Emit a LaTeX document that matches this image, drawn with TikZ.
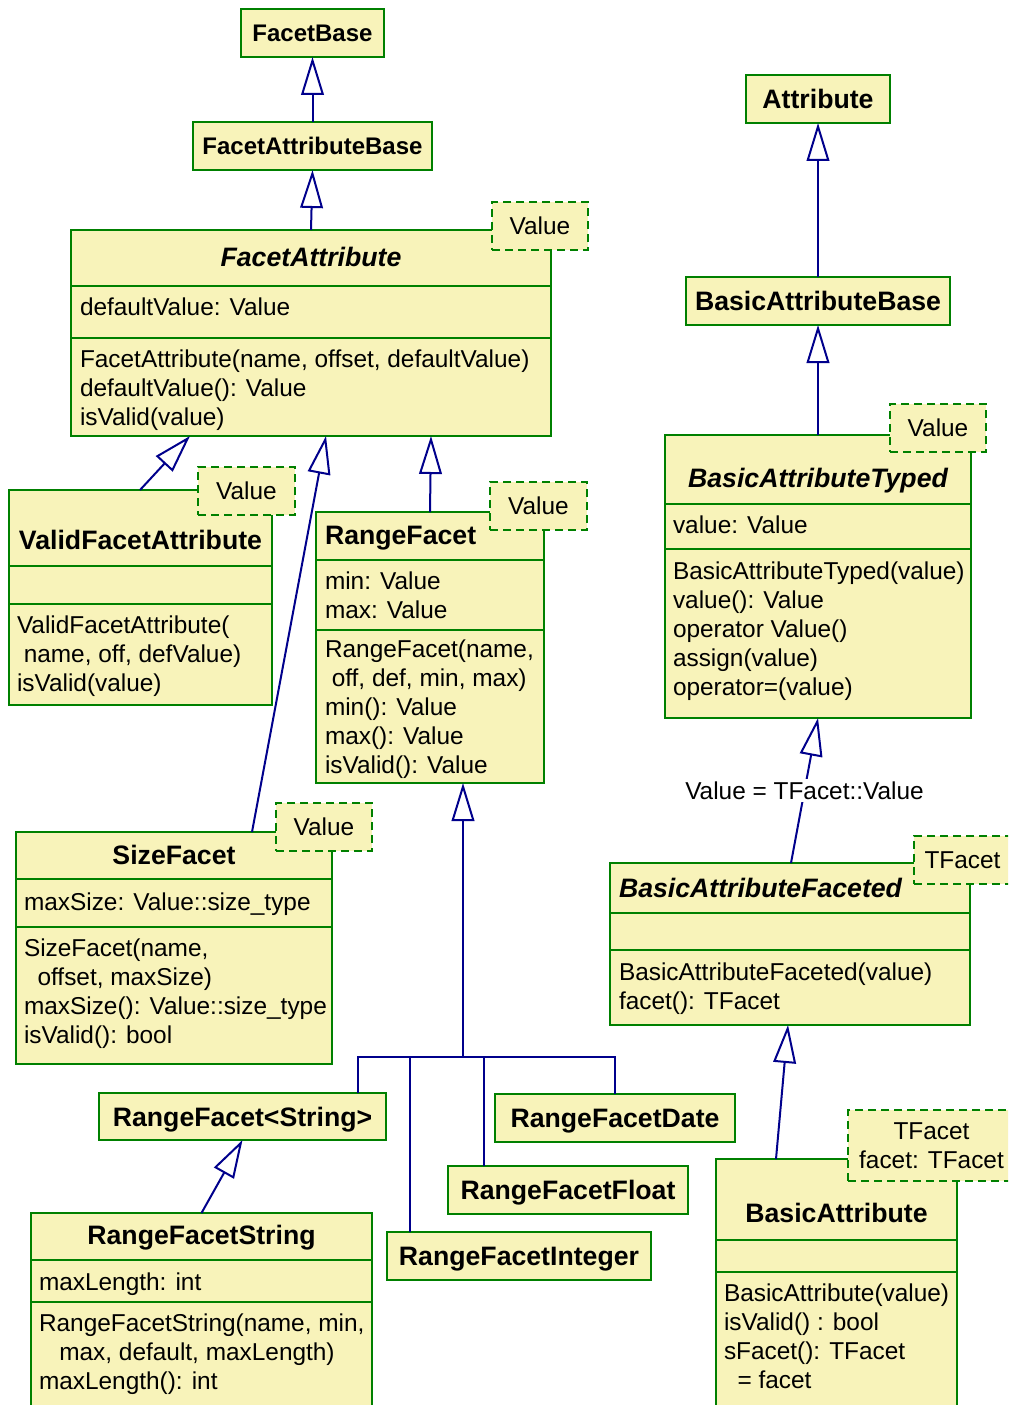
\documentclass[tikz,border=0pt]{standalone}
\usepackage{fontspec}
\setmainfont{Liberation Sans}
\usetikzlibrary{arrows.meta,calc}

\definecolor{clsfill}{RGB}{248,243,186}
\definecolor{clsedge}{RGB}{0,128,0}
\definecolor{reledge}{RGB}{0,0,140}

% horizontal compartment divider, #2 px below the top of class #1
\newcommand\hdiv[2]{\draw[divline] ($(#1.north west)+(0,#2)$) -- ($(#1.north east)+(0,#2)$);}

\begin{document}
\begin{tikzpicture}[
  x=0.75pt, y=-0.75pt,
  every node/.style={inner sep=0pt, outer sep=0pt},
  box/.style 2 args={minimum width=#1*0.75pt, minimum height=#2*0.75pt},
  cls/.style={draw=clsedge, fill=clsfill, line width=1.5pt, anchor=north west},
  simple/.style={cls, font=\fontsize{20}{24}\selectfont\bfseries, text height=14.3pt, text depth=0pt},
  smallsimple/.style={simple, font=\fontsize{18}{21.75}\selectfont\bfseries, text height=12.9pt},
  tmpl/.style={cls, dash pattern=on 6pt off 3.75pt, font=\fontsize{18.3}{21.75}\selectfont, align=center},
  tmplone/.style={tmpl, text height=13.1pt, text depth=0pt},
  title/.style={font=\fontsize{20}{24}\selectfont\bfseries, anchor=base},
  titlew/.style={title, anchor=base west},
  mem/.style={font=\fontsize{18.3}{21.75}\selectfont, anchor=base west},
  divline/.style={draw=clsedge, line width=1.5pt},
  inh/.style={draw=reledge, line width=1.5pt, -{Triangle[length=28.5pt, width=17pt, fill=white]}},
  rel/.style={draw=reledge, line width=1.5pt},
  lbl/.style={font=\fontsize{18.3}{21.75}\selectfont, fill=white, inner sep=2pt}
]
\useasboundingbox (0,0) rectangle (1008,1405);
\fill[white] (0,0) rectangle (1008,1405);
\clip (0,0) rectangle (1008,1405);

% ---------- facet hierarchy ----------
\node[smallsimple, box={143}{48}] (fb) at (241,9) {FacetBase};
\node[smallsimple, box={239}{48}] (fab) at (193,122) {FacetAttributeBase};

\node[cls, box={480}{206}] (fa) at (71,230) {};
\hdiv{fa}{56}\hdiv{fa}{108}
\node[title] (fa-t) at (311,267) {\itshape FacetAttribute};
\node[mem] (fa-a1) at (80,315.6) {defaultValue: Value};
\node[mem] (fa-m1) at (80,367.6) {FacetAttribute(name, offset, defaultValue)};
\node[mem] (fa-m2) at (80,396.6) {defaultValue(): Value};
\node[mem] (fa-m3) at (80,425.6) {isValid(value)};
\node[tmplone, box={96}{48}] (fa-p) at (492,202) {Value};

\node[cls, box={263}{215}] (vfa) at (9,490) {};
\hdiv{vfa}{76}\hdiv{vfa}{114}
\node[title] (vfa-t) at (140.5,549.6) {ValidFacetAttribute};
\node[mem] (vfa-m1) at (17,633.6) {ValidFacetAttribute(};
\node[mem] (vfa-m2) at (17,662.6) {\ name, off, defValue)};
\node[mem] (vfa-m3) at (17,691.6) {isValid(value)};
\node[tmplone, box={97}{48}] (vfa-p) at (198,467) {Value};

\node[cls, box={228}{271}] (rf) at (316,512) {};
\hdiv{rf}{48}\hdiv{rf}{118}
\node[titlew] (rf-t) at (325,544.6) {RangeFacet};
\node[mem] (rf-a1) at (325,589.6) {min: Value};
\node[mem] (rf-a2) at (325,618.6) {max: Value};
\node[mem] (rf-m1) at (325,657.6) {RangeFacet(name,};
\node[mem] (rf-m2) at (325,686.6) {\ off, def, min, max)};
\node[mem] (rf-m3) at (325,715.6) {min(): Value};
\node[mem] (rf-m4) at (325,744.6) {max(): Value};
\node[mem] (rf-m5) at (325,773.6) {isValid(): Value};
\node[tmplone, box={97}{48}] (rf-p) at (490,482) {Value};

\node[cls, box={316}{232}] (sf) at (16,832) {};
\hdiv{sf}{47}\hdiv{sf}{95}
\node[title] (sf-t) at (174,864.6) {SizeFacet};
\node[mem] (sf-a1) at (24,910.6) {maxSize: Value::size\_type};
\node[mem] (sf-m1) at (24,956.6) {SizeFacet(name,};
\node[mem] (sf-m2) at (24,985.6) {\ \ offset, maxSize)};
\node[mem] (sf-m3) at (24,1014.6) {maxSize(): Value::size\_type};
\node[mem] (sf-m4) at (24,1043.6) {isValid(): bool};
\node[tmplone, box={96}{48}] (sf-p) at (276,803) {Value};

\node[simple, box={287}{47}] (rfstr) at (99,1093) {RangeFacet<String>};
\node[simple, box={240}{48}] (rfd) at (495,1094) {RangeFacetDate};
\node[simple, box={240}{48}] (rff) at (448,1166) {RangeFacetFloat};
\node[simple, box={264}{48}] (rfi) at (387,1232) {RangeFacetInteger};

\node[cls, box={341}{215}] (rfs) at (31,1213) {};
\hdiv{rfs}{47}\hdiv{rfs}{89}
\node[title] (rfs-t) at (201.5,1244.6) {RangeFacetString};
\node[mem] (rfs-a1) at (39,1290.6) {maxLength: int};
\node[mem] (rfs-m1) at (39,1331.6) {RangeFacetString(name, min,};
\node[mem] (rfs-m2) at (39,1360.6) {\ \ \ max, default, maxLength)};
\node[mem] (rfs-m3) at (39,1389.6) {maxLength(): int};

% ---------- attribute hierarchy ----------
\node[simple, box={144}{48}] (attr) at (746,75) {Attribute};
\node[simple, box={264}{48}] (bab) at (686,277) {BasicAttributeBase};

\node[cls, box={306}{283}] (bat) at (665,435) {};
\hdiv{bat}{69}\hdiv{bat}{114}
\node[title] (bat-t) at (818,487.6) {\itshape BasicAttributeTyped};
\node[mem] (bat-a1) at (673,533.6) {value: Value};
\node[mem] (bat-m1) at (673,579.6) {BasicAttributeTyped(value)};
\node[mem] (bat-m2) at (673,608.6) {value(): Value};
\node[mem] (bat-m3) at (673,637.6) {operator Value()};
\node[mem] (bat-m4) at (673,666.6) {assign(value)};
\node[mem] (bat-m5) at (673,695.6) {operator=(value)};
\node[tmplone, box={96}{48}] (bat-p) at (890,404) {Value};

\node[cls, box={360}{162}] (baf) at (610,863) {};
\hdiv{baf}{50}\hdiv{baf}{87}
\node[titlew] (baf-t) at (619,897.6) {\itshape BasicAttributeFaceted};
\node[mem] (baf-m1) at (619,980.6) {BasicAttributeFaceted(value)};
\node[mem] (baf-m2) at (619,1009.6) {facet(): TFacet};
\node[tmplone, box={97}{48}] (baf-p) at (914,836) {TFacet};

\node[cls, box={241}{265}] (ba) at (716,1159) {};
\hdiv{ba}{81}\hdiv{ba}{113}
\node[title] (ba-t) at (836.5,1222.6) {BasicAttribute};
\node[mem] (ba-m1) at (724,1301.6) {BasicAttribute(value)};
\node[mem] (ba-m2) at (724,1330.6) {isValid() : bool};
\node[mem] (ba-m3) at (724,1359.6) {sFacet(): TFacet};
\node[mem] (ba-m4) at (724,1388.6) {\ \ = facet};
\node[tmpl, box={167}{71}] (ba-p) at (848,1110) {TFacet\\facet: TFacet};

% ---------- generalisations ----------
\draw[inh] (fab.north) -- (fb.south);
\draw[inh] (fa.north) -- (fab.south);
\draw[inh] ($(vfa.north west)+(131,0)$) -- ($(fa.south west)+(119,0)$);
\draw[inh] ($(sf.north west)+(236,0)$) -- ($(fa.south west)+(255,0)$);
\draw[inh] (rf.north) -- ($(fa.south west)+(360,0)$);

\coordinate (bus) at (463,1057);
\draw[inh] (bus) -- ($(rf.south west)+(147,0)$);
\draw[rel] ($(rfstr.north west)+(259,0)$) |- (bus);
\draw[rel] ($(rfi.north west)+(23,0)$) |- (bus);
\draw[rel] ($(rff.north west)+(36,0)$) |- (bus);
\draw[rel] (rfd.north) |- (bus);
\draw[inh] (rfs.north) -- (rfstr.south);

\draw[inh] (bab.north) -- (attr.south);
\draw[inh] (bat.north) -- (bab.south);
\draw[inh] ($(baf.north west)+(181,0)$) -- (bat.south)
  node[lbl, pos=0.5] (bind) {Value = TFacet::Value};
\draw[inh] ($(ba.north west)+(60,0)$) -- ($(baf.south west)+(178,0)$);
\end{tikzpicture}
\end{document}
